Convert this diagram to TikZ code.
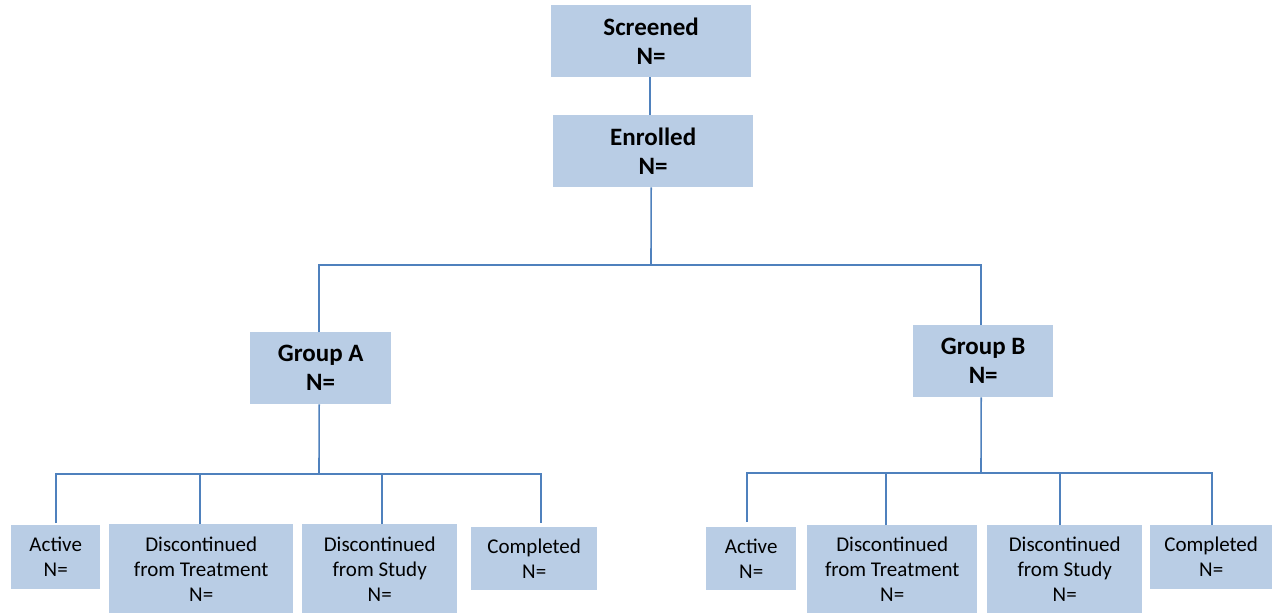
\documentclass[tikz,border=0pt]{standalone}
\usepackage{fontspec}
\setmainfont{Carlito}
\definecolor{boxfill}{HTML}{B9CDE5}
\definecolor{linec}{HTML}{4F81BD}
\begin{document}
\begin{tikzpicture}[x=1pt,y=-1pt,
  box/.style={fill=boxfill, inner sep=0pt, align=center, anchor=north west},
  topbox/.style={box, font=\fontsize{25}{29}\selectfont\bfseries},
  leafbox/.style={box, font=\fontsize{21}{25}\selectfont},
  conn/.style={draw=linec, line width=1.6pt, line join=miter}]
\useasboundingbox (0,0) rectangle (1272,613);
% top
\node[topbox, minimum width=200pt, minimum height=72pt] (scr) at (551,5) {Screened\\N=};
\node[topbox, minimum width=200pt, minimum height=72pt] (enr) at (553,115) {Enrolled\\N=};
\node[topbox, minimum width=141pt, minimum height=72pt] (gA) at (250,332) {Group A\\N=};
\node[topbox, minimum width=140pt, minimum height=72pt] (gB) at (913,325) {Group B\\N=};
% group A leaves
\node[leafbox, minimum width=89pt, minimum height=64pt] (acA) at (11,525) {Active\\N=};
\node[leafbox, minimum width=184pt, minimum height=90pt] (dtA) at (109,524) {Discontinued\\from Treatment\\N=};
\node[leafbox, minimum width=155pt, minimum height=90pt] (dsA) at (302,524) {Discontinued\\from Study\\N=};
\node[leafbox, minimum width=126pt, minimum height=63pt] (cpA) at (471,527) {Completed\\N=};
% group B leaves
\node[leafbox, minimum width=90pt, minimum height=63pt] (acB) at (706,527) {Active\\N=};
\node[leafbox, minimum width=170pt, minimum height=89pt] (dtB) at (807,525) {Discontinued\\from Treatment\\N=};
\node[leafbox, minimum width=155pt, minimum height=89pt] (dsB) at (987,525) {Discontinued\\from Study\\N=};
\node[leafbox, minimum width=122pt, minimum height=64pt] (cpB) at (1150,525) {Completed\\N=};
% junction coordinates
\coordinate (j0) at (651,265);
\coordinate (bA) at (319,474);
\coordinate (bB) at (981,473);
% connectors
\draw[conn] ([xshift=-1pt]scr.south) -- ([xshift=-1pt]scr.south |- enr.north);
\draw[conn] ([xshift=-2pt]enr.south) -- (j0);
\draw[conn] ([xshift=-1.5pt]gA.north) -- ([xshift=-1.5pt]gA.north |- j0) -- ([xshift=-2pt]gB.north |- j0) -- ([xshift=-2pt]gB.north);
\draw[conn] ([xshift=-1.5pt]gA.south) -- (bA);
\draw[conn] ([xshift=-2pt]gB.south) -- (bB);
% group A bar
\draw[conn] ([yshift=2pt]acA.north) -- (acA.north |- bA) -- ([xshift=7pt]cpA.north |- bA) -- ([xshift=7pt,yshift=4pt]cpA.north);
\draw[conn] ([xshift=-1pt]dtA.north) -- ([xshift=-1pt]dtA.north |- bA);
\draw[conn] ([xshift=2.5pt]dsA.north) -- ([xshift=2.5pt]dsA.north |- bA);
% group B bar
\draw[conn] ([xshift=-4pt,yshift=5pt]acB.north) -- ([xshift=-4pt]acB.north |- bB) -- ([xshift=1pt]cpB.north |- bB) -- ([xshift=1pt]cpB.north);
\draw[conn] ([xshift=-6pt]dtB.north) -- ([xshift=-6pt]dtB.north |- bB);
\draw[conn] ([xshift=-4.5pt]dsB.north) -- ([xshift=-4.5pt]dsB.north |- bB);
\end{tikzpicture}
\end{document}
